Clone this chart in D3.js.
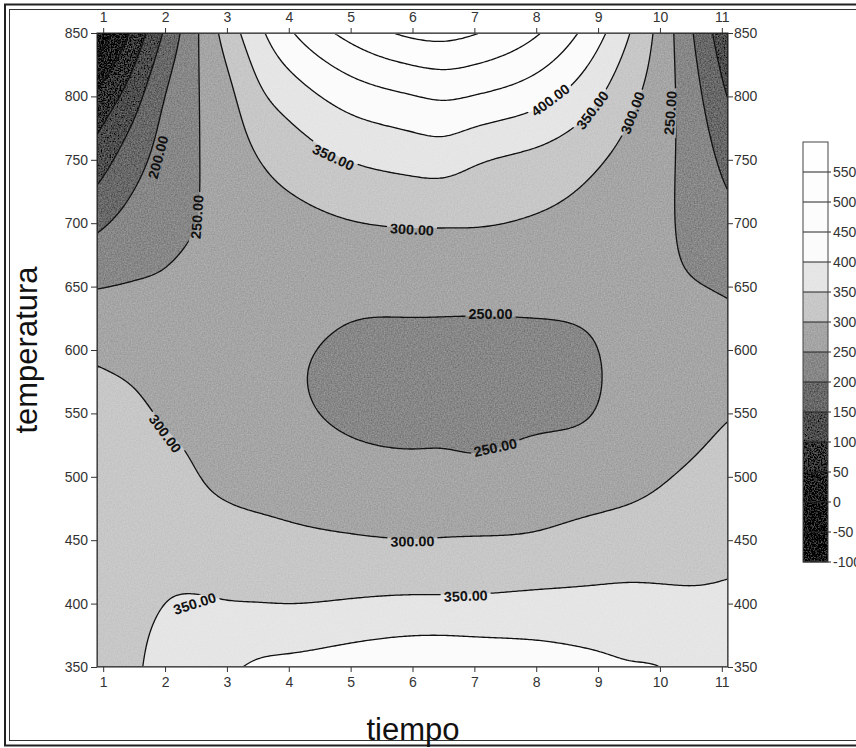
<!DOCTYPE html>
<html>
<head>
<meta charset="utf-8">
<script src="https://cdn.jsdelivr.net/npm/d3@7"></script>
<style>
  body { margin: 0; background: #fff; }
  svg { display: block; }
  text { font-family: "Liberation Sans", Arial, sans-serif; }
</style>
</head>
<body>
<svg id="chart" width="856" height="748"></svg>
<script>
// ---- data ----------------------------------------------------------------
// grid columns (tiempo) and rows (temperatura)
var tiempoCols = [0.9, 1.5, 2, 2.5, 3, 3.5, 4, 5, 6, 6.5, 7, 8, 9, 9.5, 10, 10.5, 11.1];
var tempRows = [350, 400, 450, 500, 550, 600, 650, 700, 750, 800, 850];

// z values along each temperatura row, one entry per tiempo column
var z350 = [338, 346, 362, 375, 390, 408, 415, 430, 442, 444, 440, 426, 412, 404, 400, 385, 375];
var z400 = [340, 344, 350, 354, 352, 351, 350, 355, 360, 360, 360, 364, 364, 364, 362, 358, 358];
var z450 = [338, 338, 338, 325, 318, 315, 310, 304, 301, 302, 303, 306, 318, 322, 325, 330, 337];
var z500 = [332, 328, 318, 302, 290, 282, 278, 270, 265, 264, 262, 272, 278, 286, 296, 306, 318];
var z550 = [318, 310, 295, 287, 272, 264, 258, 242, 236, 238, 237, 242, 252, 266, 275, 285, 297];
var z600 = [292, 283, 275, 275, 265, 260, 256, 243, 240, 240, 240, 242, 250, 260, 262, 270, 270];
var z650 = [248, 253, 256, 262, 262, 266, 268, 263, 263, 263, 263, 262, 262, 262, 258, 253, 245];
var z700 = [190, 219, 236, 250, 265, 278, 285, 298, 304, 304, 303, 295, 280, 270, 260, 238, 215];
var z750 = [124, 181, 220, 247, 272, 299, 320, 352, 368, 371, 357, 337, 305, 285, 265, 232, 185];
var z800 = [58, 130, 200, 246, 286, 338, 372, 422, 448, 456, 448, 418, 355, 313, 275, 222, 148];
var z850 = [-40, 65, 157, 243, 320, 386, 442, 516, 560, 565, 553, 505, 415, 352, 284, 206, 110];

// contour levels, legend ticks and shading per band
var levels = [-100, -50, 0, 50, 100, 150, 200, 250, 300, 350, 400, 450, 500, 550, 600];
var bandColors = ['#060606', '#0c0c0c', '#1c1c1c', '#333333', '#4d4d4d', '#686868', '#878787',
                  '#a5a5a5', '#c7c7c7', '#e5e5e5', '#fbfbfb', '#fcfcfc', '#fdfdfd', '#fefefe'];
var xTicks = [1, 2, 3, 4, 5, 6, 7, 8, 9, 10, 11];
var yTicks = [350, 400, 450, 500, 550, 600, 650, 700, 750, 800, 850];
var legendTicks = [550, 500, 450, 400, 350, 300, 250, 200, 150, 100, 50, 0, -50, -100];

// labels written on the contour lines: level, tiempo, temperatura, angle
var contourLabels = [
  [200, 1.89, 752, -75], [250, 2.52, 705, -86], [350, 4.72, 752, 25], [300, 5.99, 695, 3],
  [400, 8.23, 797, -37], [350, 8.91, 789, -53], [300, 9.56, 787, -69], [250, 10.17, 787, -86],
  [250, 7.26, 628, 0], [250, 7.34, 523, -12], [300, 2.0, 534, 53], [300, 6.0, 449, -1],
  [350, 2.48, 400, -18], [350, 6.86, 406, -2]
];

var zRows = [z350, z400, z450, z500, z550, z600, z650, z700, z750, z800, z850];

// ---- layout ---------------------------------------------------------------
var svg = d3.select('#chart');
var plot = {left: 97, right: 728, top: 33, bottom: 667};
var W = plot.right - plot.left, H = plot.bottom - plot.top;

var x = d3.scaleLinear().domain([0.9, 11.1]).range([plot.left, plot.right]);
var y = d3.scaleLinear().domain([350, 850]).range([plot.bottom, plot.top]);

// natural cubic spline through (xs, ys)
function naturalSpline(xs, ys) {
  var n = xs.length, h = [], m = new Array(n).fill(0), i;
  for (i = 0; i < n - 1; i++) h[i] = xs[i + 1] - xs[i];
  var sub = [], diag = [], sup = [], rhs = [];
  for (i = 1; i < n - 1; i++) {
    sub.push(h[i - 1]);
    diag.push(2 * (h[i - 1] + h[i]));
    sup.push(h[i]);
    rhs.push(6 * ((ys[i + 1] - ys[i]) / h[i] - (ys[i] - ys[i - 1]) / h[i - 1]));
  }
  var k = diag.length;
  for (i = 1; i < k; i++) {
    var w = sub[i] / diag[i - 1];
    diag[i] -= w * sup[i - 1];
    rhs[i] -= w * rhs[i - 1];
  }
  for (i = k - 1; i >= 0; i--) {
    m[i + 1] = (rhs[i] - (i < k - 1 ? sup[i] * m[i + 2] : 0)) / diag[i];
  }
  return function(v) {
    var j = Math.max(0, Math.min(n - 2, d3.bisectRight(xs, v) - 1));
    var t0 = xs[j + 1] - v, t1 = v - xs[j], hj = h[j];
    return m[j] * t0 * t0 * t0 / (6 * hj) + m[j + 1] * t1 * t1 * t1 / (6 * hj) +
      (ys[j] / hj - m[j] * hj / 6) * t0 + (ys[j + 1] / hj - m[j + 1] * hj / 6) * t1;
  };
}

// resample the grid finely so the contours come out smooth
var nx = Math.round(W / 2), ny = Math.round(H / 2);
var sampleX = d3.range(nx).map(function(i) { return x.invert(plot.left + (i + 0.5) * W / nx); });
var sampleY = d3.range(ny).map(function(j) { return y.invert(plot.top + (j + 0.5) * H / ny); });
var rowsFine = zRows.map(function(row) {
  var f = naturalSpline(tiempoCols, row);
  return sampleX.map(f);
});
var values = new Array(nx * ny);
for (var i = 0; i < nx; i++) {
  var f = naturalSpline(tempRows, rowsFine.map(function(r) { return r[i]; }));
  for (var j = 0; j < ny; j++) values[j * nx + i] = f(sampleY[j]);
}

var contours = d3.contours().size([nx, ny]).thresholds(levels)(values);
var proj = d3.geoTransform({
  point: function(px, py) { this.stream.point(plot.left + px * W / nx, plot.top + py * H / ny); }
});
var path = d3.geoPath(proj);

// ---- defs: speckle texture, clip, label gaps -----------------------------
var defs = svg.append('defs');
var speckle = defs.append('filter').attr('id', 'speckle')
  .attr('filterUnits', 'userSpaceOnUse')
  .attr('x', 0).attr('y', 0).attr('width', 856).attr('height', 748);
speckle.append('feTurbulence').attr('type', 'fractalNoise').attr('baseFrequency', 0.7)
  .attr('numOctaves', 2).attr('seed', 3).attr('result', 'noise');
speckle.append('feColorMatrix').attr('in', 'noise').attr('type', 'matrix')
  .attr('values', '1 0 0 0 0  1 0 0 0 0  1 0 0 0 0  0 0 0 0 1').attr('result', 'grey');
// out = s + c*(n - 0.5)*(1 - s): white stays white, greys get grain
var c = 0.32;
speckle.append('feComposite').attr('in', 'SourceGraphic').attr('in2', 'grey')
  .attr('operator', 'arithmetic')
  .attr('k1', -c).attr('k2', 1 + 0.5 * c).attr('k3', c).attr('k4', -0.5 * c)
  .attr('result', 'grain');
speckle.append('feComposite').attr('in', 'grain').attr('in2', 'SourceGraphic').attr('operator', 'in');

defs.append('clipPath').attr('id', 'plotClip').append('rect')
  .attr('x', plot.left + 0.5).attr('y', plot.top + 0.5).attr('width', W - 1).attr('height', H - 1);

var mask = defs.append('mask').attr('id', 'labelGaps')
  .attr('maskUnits', 'userSpaceOnUse').attr('x', 0).attr('y', 0).attr('width', 856).attr('height', 748);
mask.append('rect').attr('width', 856).attr('height', 748).attr('fill', '#fff');
mask.selectAll('rect.gap').data(contourLabels).enter().append('rect')
  .attr('class', 'gap')
  .attr('x', -25).attr('y', -7).attr('width', 50).attr('height', 14).attr('fill', '#000')
  .attr('transform', function(d) { return 'translate(' + x(d[1]) + ',' + y(d[2]) + ') rotate(' + d[3] + ')'; });

// ---- outer double frame ---------------------------------------------------
svg.append('rect').attr('x', 5).attr('y', 4.5).attr('width', 900).attr('height', 741)
  .attr('fill', 'none').attr('stroke', '#222').attr('stroke-width', 2);
svg.append('rect').attr('x', 9.5).attr('y', 9.5).attr('width', 900).attr('height', 731)
  .attr('fill', 'none').attr('stroke', '#333').attr('stroke-width', 1);

// ---- filled bands ---------------------------------------------------------
svg.append('g').attr('filter', 'url(#speckle)')
  .selectAll('path').data(contours).enter().append('path')
  .attr('d', path)
  .attr('fill', function(d, k) { return bandColors[Math.min(k, bandColors.length - 1)]; });

// ---- contour lines --------------------------------------------------------
svg.append('g').attr('clip-path', 'url(#plotClip)')
  .append('g').attr('mask', 'url(#labelGaps)')
  .selectAll('path').data(contours.filter(function(d) { return d.value >= -50; }))
  .enter().append('path')
  .attr('d', path)
  .attr('fill', 'none').attr('stroke', '#111').attr('stroke-width', 1.3);

svg.append('g').selectAll('text').data(contourLabels).enter().append('text')
  .attr('transform', function(d) { return 'translate(' + x(d[1]) + ',' + y(d[2]) + ') rotate(' + d[3] + ')'; })
  .attr('text-anchor', 'middle').attr('dy', '0.35em')
  .attr('font-size', 14).attr('font-weight', 'bold').attr('fill', '#111')
  .attr('textLength', 44).attr('lengthAdjust', 'spacingAndGlyphs')
  .text(function(d) { return d[0].toFixed(2); });

// ---- axes -----------------------------------------------------------------
svg.append('rect').attr('x', plot.left).attr('y', plot.top).attr('width', W).attr('height', H)
  .attr('fill', 'none').attr('stroke', '#222').attr('stroke-width', 1);

function styleAxis(g) {
  g.select('.domain').remove();
  g.selectAll('line').attr('stroke', '#333');
  g.selectAll('text').attr('font-size', 14).attr('fill', '#333')
    .attr('font-family', '"Liberation Sans", Arial, sans-serif');
}
svg.append('g').attr('transform', 'translate(' + plot.left + ',0)')
  .call(d3.axisLeft(y).tickValues(yTicks).tickSize(6).tickPadding(3)).call(styleAxis);
svg.append('g').attr('transform', 'translate(' + plot.right + ',0)')
  .call(d3.axisRight(y).tickValues(yTicks).tickSize(5).tickPadding(1)).call(styleAxis);
svg.append('g').attr('transform', 'translate(0,' + plot.top + ')')
  .call(d3.axisTop(x).tickValues(xTicks).tickSize(5).tickPadding(6)).call(styleAxis);
svg.append('g').attr('transform', 'translate(0,' + plot.bottom + ')')
  .call(d3.axisBottom(x).tickValues(xTicks).tickSize(5).tickPadding(5)).call(styleAxis);

svg.append('text').attr('transform', 'translate(37,350) rotate(-90)')
  .attr('text-anchor', 'middle').attr('font-size', 31).attr('fill', '#111').text('temperatura');
svg.append('text').attr('x', 413).attr('y', 740)
  .attr('text-anchor', 'middle').attr('font-size', 31).attr('fill', '#111').text('tiempo');

// ---- legend ---------------------------------------------------------------
var ly = d3.scaleLinear().domain([-100, 600]).range([562, 142]);
var legend = svg.append('g');
legend.append('g').attr('filter', 'url(#speckle)')
  .selectAll('rect').data(levels.slice(0, -1)).enter().append('rect')
  .attr('x', 803).attr('width', 25)
  .attr('y', function(d) { return ly(d + 50); })
  .attr('height', function(d) { return ly(d) - ly(d + 50); })
  .attr('fill', function(d, k) { return bandColors[k]; });
legend.selectAll('line').data(legendTicks).enter().append('line')
  .attr('x1', 803).attr('x2', 831)
  .attr('y1', function(d) { return ly(d); }).attr('y2', function(d) { return ly(d); })
  .attr('stroke', '#222').attr('stroke-width', 1);
legend.append('rect').attr('x', 803).attr('y', ly(600)).attr('width', 25).attr('height', ly(-100) - ly(600))
  .attr('fill', 'none').attr('stroke', '#444').attr('stroke-width', 1);
legend.selectAll('text').data(legendTicks).enter().append('text')
  .attr('x', 833).attr('y', function(d) { return ly(d); }).attr('dy', '0.35em')
  .attr('font-size', 14).attr('fill', '#333')
  .text(function(d) { return d; });
</script>
</body>
</html>
